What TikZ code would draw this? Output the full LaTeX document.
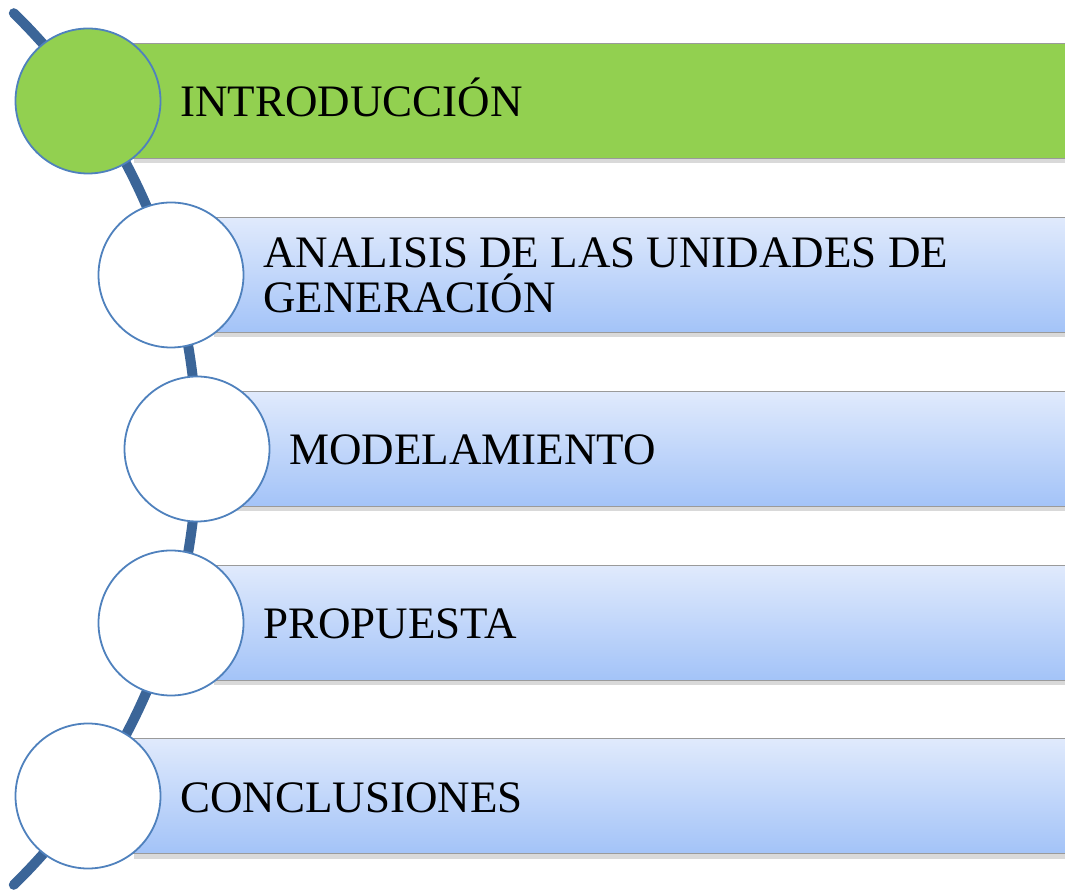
\documentclass[tikz,border=0pt]{standalone}
\usepackage{fontspec}
\setmainfont{Liberation Serif}
\usetikzlibrary{shadows}
\definecolor{spineblue}{HTML}{3B6598}
\definecolor{circleblue}{HTML}{4F81BD}
\definecolor{bargray}{HTML}{9A9A9A}
\definecolor{stagegreen}{HTML}{92D050}
\definecolor{bartop}{HTML}{E0EAFC}
\definecolor{barbottom}{HTML}{A3C3F8}

\begin{document}
\begin{tikzpicture}[x=1pt, y=1pt,
    spine/.style={line width=10pt, draw=spineblue, line cap=round},
    stage/.style={rectangle, draw=bargray, line width=1.2pt, anchor=west, minimum height=115pt, minimum width=1000pt, inner sep=0pt,
      drop shadow={shadow xshift=0pt, shadow yshift=-5pt, opacity=0.3}},
    bluestage/.style={stage, top color=bartop, bottom color=barbottom},
    greenstage/.style={stage, fill=stagegreen},
    dot/.style={circle, draw=circleblue, line width=1.8pt, fill=white, minimum size=145pt, inner sep=0pt},
    caption/.style={anchor=base west, inner sep=0pt, font=\fontsize{45}{45}\selectfont, align=left}]
      \useasboundingbox (0, 0) rectangle (1065, 889);
      \clip (0, 0) rectangle (1065, 889);
      % spine through the circles
      \coordinate (spine top) at (13.8, 875.8);
      \draw [spine] (spine top) arc [start angle=45.6, end angle=-45.6, radius=610];
      % bars
      \node [greenstage] (intro bar) at (133, 788) {};
      \node [bluestage] (analisis bar) at (213, 614) {};
      \node [bluestage] (modelo bar) at (235, 440) {};
      \node [bluestage] (propuesta bar) at (213, 266) {};
      \node [bluestage] (conclusion bar) at (133, 93) {};
      % circles
      \node [dot, fill=stagegreen] (intro dot) at (88, 788) {};
      \node [dot] (analisis dot) at (171, 614) {};
      \node [dot] (modelo dot) at (197, 440) {};
      \node [dot] (propuesta dot) at (171, 266) {};
      \node [dot] (conclusion dot) at (88, 93) {};
      % texts
      \node [caption] (intro text) at (180, 772) {INTRODUCCIÓN};
      \node [caption] (analisis text) at (263, 576) {ANALISIS DE LAS UNIDADES DE\\GENERACIÓN};
      \node [caption] (modelo text) at (289, 424) {MODELAMIENTO};
      \node [caption] (propuesta text) at (263, 250) {PROPUESTA};
      \node [caption] (conclusion text) at (180, 77) {CONCLUSIONES};
    \end{tikzpicture}
\end{document}
